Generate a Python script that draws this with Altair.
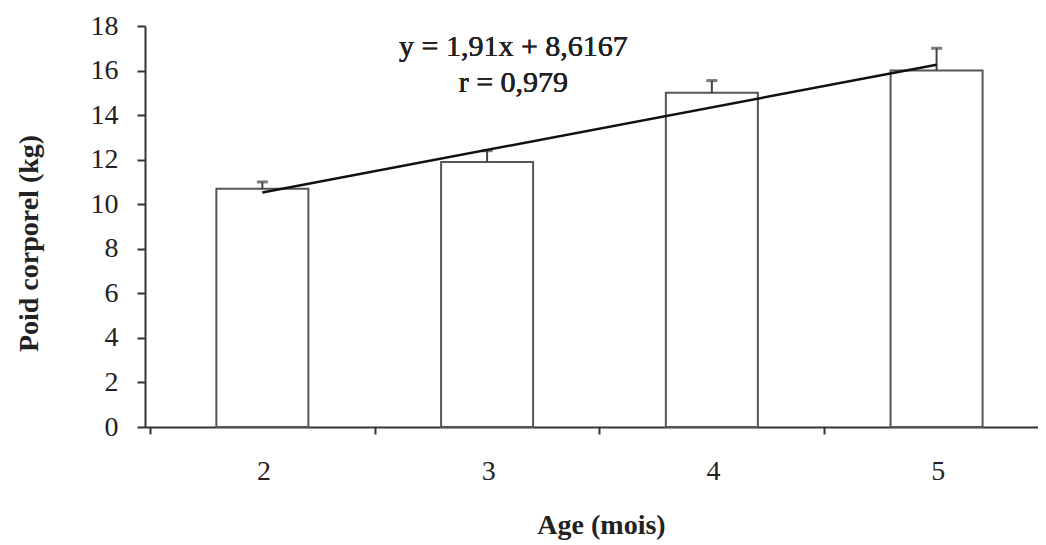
import altair as alt
import pandas as pd

ages = [2, 3, 4, 5]
weights = [10.7, 11.9, 15.0, 16.0]
err_tops = [11.0, 12.4, 15.55, 17.0]
trend_x = [2, 5]
trend_y = [10.53, 16.26]
y_ticks = [0, 2, 4, 6, 8, 10, 12, 14, 16, 18]
x_bounds = [1.5, 2.5, 3.5, 4.5]
eq_text = ["y = 1,91x + 8,6167", "r = 0,979"]

df = pd.DataFrame({"age": ages, "w": weights, "e": err_tops})
tr = pd.DataFrame({"age": trend_x, "w": trend_y})

FONT = "Times New Roman"
xs = alt.Scale(domain=[1.5, 5.429], nice=False, zero=False)
ys = alt.Scale(domain=[0, 18], nice=False, zero=True)

x_axis = alt.Axis(
    values=x_bounds, labelExpr="format(datum.value + 0.5, 'd')", labelOffset=113.6,
    tickSize=7, tickWidth=2, tickColor="#333", domainColor="#333", domainWidth=2,
    labelFontSize=28, labelFont=FONT, labelColor="#222", labelPadding=23,
    grid=False, title="Age (mois)", titleFont=FONT, titleFontSize=28,
    titleFontWeight="bold", titleColor="#222", titleX=456, titleY=106,
    titleBaseline="alphabetic", titleAlign="center",
)
y_axis = alt.Axis(
    values=y_ticks, tickSize=8, tickWidth=2, tickColor="#333", domainColor="#333",
    domainWidth=2, labelFontSize=28, labelFont=FONT, labelColor="#222",
    labelPadding=19, grid=False, title="Poid corporel (kg)", titleFont=FONT,
    titleFontSize=28, titleFontWeight="bold", titleColor="#222",
    titleX=-108, titleY=217, titleBaseline="alphabetic", titleAngle=-90,
    titleAlign="center",
)

base = alt.Chart(df)
bars = base.mark_bar(size=92, fill="white", stroke="#555", strokeWidth=2).encode(
    x=alt.X("age:Q", scale=xs, axis=x_axis),
    y=alt.Y("w:Q", scale=ys, axis=y_axis),
)
stems = base.mark_rule(color="#444", strokeWidth=2).encode(
    x=alt.X("age:Q", scale=xs), y=alt.Y("w:Q", scale=ys), y2="e:Q"
)
caps = base.mark_tick(orient="horizontal", size=11, thickness=3, color="#444").encode(
    x=alt.X("age:Q", scale=xs), y=alt.Y("e:Q", scale=ys)
)
line = alt.Chart(tr).mark_line(color="#111", strokeWidth=2.5).encode(
    x=alt.X("age:Q", scale=xs), y=alt.Y("w:Q", scale=ys)
)
t1 = alt.Chart(df).mark_text(font=FONT, fontSize=30, fontWeight="normal", color="#222", align="center", baseline="middle").encode(
    x=alt.datum(3.117, scale=xs), y=alt.datum(17.06, scale=ys), text=alt.value(eq_text[0])
)
t2 = alt.Chart(df).mark_text(font=FONT, fontSize=30, fontWeight="normal", color="#222", align="center", baseline="middle").encode(
    x=alt.datum(3.117, scale=xs), y=alt.datum(15.44, scale=ys), text=alt.value(eq_text[1])
)

chart = alt.layer(bars, stems, caps, line, t1, t2).properties(
    width=893, height=401,
    autosize=alt.AutoSizeParams(type="none"),
    padding={"left": 137, "top": 18, "right": 0, "bottom": 115},
).configure_view(stroke=None)

chart.save("out.html", embed_options={"renderer": "svg", "actions": False})
